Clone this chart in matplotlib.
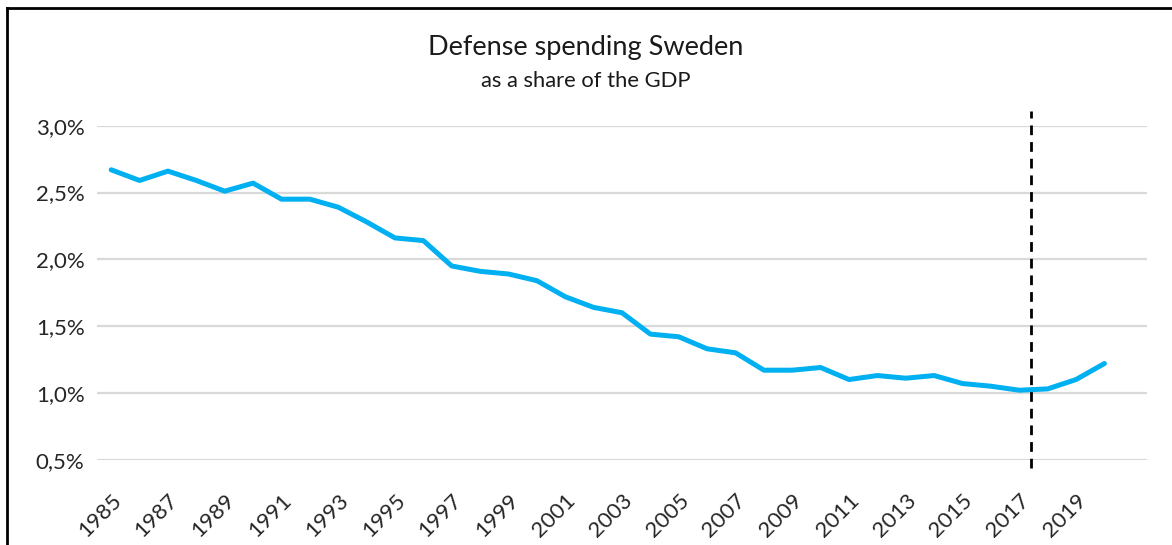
import numpy as np
import matplotlib.pyplot as plt
from matplotlib.lines import Line2D

# Försvarsutgifter som andel av BNP (procent)
years = list(range(1985, 2021))
share = [2.67, 2.59, 2.66, 2.59, 2.51, 2.57, 2.45, 2.45, 2.39, 2.28, 2.16,
         2.14, 1.95, 1.91, 1.89, 1.84, 1.72, 1.64, 1.60, 1.44, 1.42, 1.33,
         1.30, 1.17, 1.17, 1.19, 1.10, 1.13, 1.11, 1.13, 1.07, 1.05, 1.02,
         1.03, 1.10, 1.22]
y_ticks = [0.5, 1.0, 1.5, 2.0, 2.5, 3.0]
tick_years = list(range(1985, 2020, 2))
marker_year = 2017.4

plt.rcParams['font.family'] = ['Lato', 'DejaVu Sans']

fig = plt.figure(figsize=(11.72, 5.45), dpi=100)
ax = fig.add_axes([97 / 1172, 1 - 459.7 / 545, 1050 / 1172, (459.7 - 125.7) / 545])

x = np.arange(len(years))
ax.plot(x, share, color='#00b0f0', lw=3.6, solid_capstyle='round', solid_joinstyle='round', zorder=3)

# streckad markering mellan 2017 och 2018
mx = marker_year - years[0]
ax.plot([mx, mx], [0.44, 3.11], color='black', lw=2, ls=(0, (3.5, 2.5)), clip_on=False, zorder=4)

ax.set_xlim(-0.5, len(years) + 0.5)
ax.set_ylim(0.5, 3.0)
ax.set_yticks(y_ticks)
ax.set_yticklabels([f'{v:.1f}%'.replace('.', ',') for v in y_ticks], fontsize=16, color='#262626')
ax.set_xticks([yr - years[0] for yr in tick_years])
ax.set_xticklabels([str(yr) for yr in tick_years], rotation=45, ha='right', va='top',
                   rotation_mode='anchor', fontsize=16, color='#262626')
ax.tick_params(axis='y', length=0, pad=9)
ax.tick_params(axis='x', length=0, pad=22)
ax.grid(axis='y', color='#d9d9d9', lw=1.6)
ax.set_axisbelow(True)
for s in ax.spines.values():
    s.set_visible(False)

fig.text(0.5, 1 - 47 / 545, 'Defense spending Sweden', ha='center', va='center', fontsize=19.5, color='#1a1a1a')
fig.text(0.5, 1 - 81 / 545, 'as a share of the GDP', ha='center', va='center', fontsize=15.8, color='#1a1a1a')

# ram runt diagrammet
fig.add_artist(Line2D([7 / 1172, 7 / 1172], [0, 1 - 8 / 545], transform=fig.transFigure, color='black', lw=2))
fig.add_artist(Line2D([7 / 1172, 1], [1 - 8 / 545, 1 - 8 / 545], transform=fig.transFigure, color='black', lw=2))

fig.savefig('out.png', dpi=100)
